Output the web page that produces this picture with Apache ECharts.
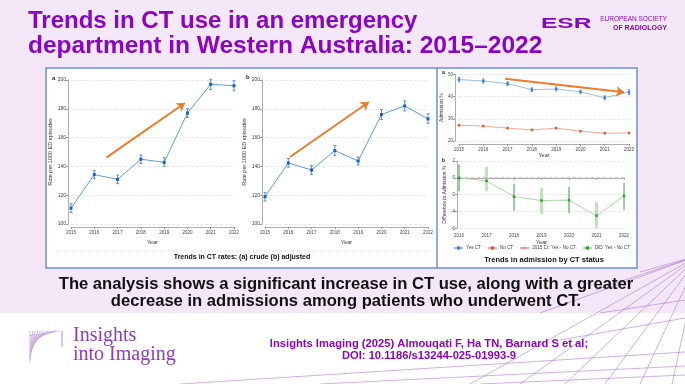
<!DOCTYPE html>
<html>
<head>
<meta charset="utf-8">
<script src="https://cdn.jsdelivr.net/npm/echarts@6/dist/echarts.min.js"></script>
<style>
html, body { margin: 0; padding: 0; background: #fff; }
#chart { width: 685px; height: 384px; }
</style>
</head>
<body>
<div id="chart"></div>
<script>
// panel a / b : CT rate per 1000 ED episodes
const years = [2015, 2016, 2017, 2018, 2019, 2020, 2021, 2022]
const crude = [111, 134.3, 131, 145, 142.8, 177, 197, 196]
const crudeLow = [108, 131.5, 128, 142, 140, 174, 193.5, 192.5]
const crudeHigh = [114, 137, 134, 148, 146, 180, 200.5, 199.5]
const adjusted = [119, 142.4, 137.5, 151, 143.7, 176, 182, 173]
const adjLow = [116, 139.5, 134.5, 147.5, 141, 172.5, 178.5, 170]
const adjHigh = [122, 145.5, 140.5, 154.5, 146.5, 179.5, 185.5, 176.5]

// admission % by CT status
const yesCT = [47.6, 47, 45.8, 43.1, 43.4, 42.1, 39.5, 42]
const yesLow = [46.6, 46.1, 45, 42.3, 42.5, 41.3, 38.7, 41]
const yesHigh = [48.6, 47.9, 46.6, 43.9, 44.3, 42.9, 40.3, 43]
const noCT = [27.1, 26.7, 25.8, 25, 25.8, 24.4, 23.5, 23.6]

// difference in differences
const didYears = [2016, 2017, 2018, 2019, 2020, 2021, 2022]
const did = [0, -0.36, -2.24, -2.7, -2.65, -4.5, -2.15]
const didLow = [-1.6, -1.6, -3.9, -4.3, -4.2, -6, -3.8]
const didHigh = [1.6, 1.3, -0.7, -1.15, -1.07, -2.9, -0.6]
const zeroRef = [0, 0, 0, 0, 0, 0, 0]

// annotation arrows (data units)
const arrowA = [[2016.53, 146.3], [2019.89, 184]]
const arrowB = [[2016.07, 146.5], [2019.46, 184.7]]
const arrowC = [[2016.9, 48], [2021.8, 41.9]]

const purple = '#8a05c2'
const pairs = (xs, ys) => xs.map((x, i) => [x, ys[i]])
const triples = (xs, lo, hi) => xs.map((x, i) => [x, lo[i], hi[i]])

function errBar(color, cap, lightColor) {
  return function (params, api) {
    const x = api.value(0)
    const lo = api.coord([x, api.value(1)])
    const hi = api.coord([x, api.value(2)])
    if (lightColor && params.dataIndex % 2 === 1) {
      return {
        type: 'rect',
        shape: { x: lo[0] - 1.5, y: hi[1], width: 3, height: lo[1] - hi[1] },
        style: { fill: lightColor }
      }
    }
    const st = { stroke: color, lineWidth: 1 }
    return {
      type: 'group',
      children: [
        { type: 'line', shape: { x1: lo[0], y1: lo[1], x2: hi[0], y2: hi[1] }, style: st },
        { type: 'line', shape: { x1: lo[0] - cap, y1: lo[1], x2: lo[0] + cap, y2: lo[1] }, style: st },
        { type: 'line', shape: { x1: hi[0] - cap, y1: hi[1], x2: hi[0] + cap, y2: hi[1] }, style: st }
      ]
    }
  }
}

function xAx(grid, min, max, off, fs, gap) {
  return {
    type: 'value', gridIndex: grid, min: min, max: max, interval: 1, offset: off,
    name: 'Year', nameLocation: 'middle', nameGap: gap,
    nameTextStyle: { fontSize: fs + 1, color: '#333', fontFamily: 'Liberation Sans' },
    axisLine: { show: true, lineStyle: { color: '#999', width: 0.8 } },
    axisTick: { show: true, length: 2, lineStyle: { color: '#999' } },
    axisLabel: { fontSize: fs, margin: 3, color: '#444', formatter: v => String(v), fontFamily: 'Liberation Sans' },
    splitLine: { show: false }
  }
}
function yAx(grid, min, max, step, off, name, fs, gap) {
  return {
    type: 'value', gridIndex: grid, min: min, max: max, interval: step, offset: off,
    name: name, nameLocation: 'middle', nameGap: gap,
    nameTextStyle: { fontSize: fs + 0.5, color: '#333', fontFamily: 'Liberation Sans' },
    axisLine: { show: true, lineStyle: { color: '#999', width: 0.8 } },
    axisTick: { show: true, length: 2, lineStyle: { color: '#999' } },
    axisLabel: { fontSize: fs, margin: 2, color: '#444', fontFamily: 'Liberation Sans' },
    splitLine: { show: true, lineStyle: { color: '#e2e2e2', type: 'dashed', width: 0.8 } }
  }
}
function arrowLine(pts) {
  return {
    silent: true, symbol: ['none', 'arrow'], symbolSize: 8, label: { show: false },
    lineStyle: { color: '#f07a2a', width: 2, type: 'solid' },
    itemStyle: { color: '#f07a2a' },
    data: [[{ coord: pts[0] }, { coord: pts[1] }]]
  }
}

const txt = (id, x, y, text, size, color, extra) => ({
  type: 'text', id: id, x: x, y: y, silent: true,
  style: Object.assign({ text: text, fontSize: size, fill: color, fontFamily: 'Liberation Sans', fontWeight: 'bold' }, extra || {})
})

const graphics = [
  { type: 'rect', id: 'bgTop', shape: { x: 0, y: 0, width: 685, height: 313 }, style: { fill: '#f4e7f7' }, z: -10 },
  { type: 'rect', id: 'frame', shape: { x: 46, y: 68, width: 591, height: 200 }, style: { fill: '#fff', stroke: '#6b8fd6', lineWidth: 1.5 }, z: -9 },
  { type: 'line', id: 'divider', shape: { x1: 437, y1: 68, x2: 437, y2: 268 }, style: { stroke: '#6b8fd6', lineWidth: 1.5 }, z: -8 },
  { type: 'line', id: 'sep', shape: { x1: 52, y1: 251, x2: 432, y2: 251 }, style: { stroke: '#d8d8d8', lineWidth: 0.8, lineDash: [2, 2] }, z: -8 },
  txt('t1', 28, 21, 'Trends in CT use in an emergency', 24, purple, { textVerticalAlign: 'middle' }),
  txt('t2', 28, 46, 'department in Western Australia: 2015\u20132022', 24.5, purple, { textVerticalAlign: 'middle' }),
  { type: 'text', id: 'esr', x: 541, y: 24, scaleX: 1.75, silent: true,
    style: { text: 'ESR', fontSize: 14, fontWeight: 'bold', fill: purple, fontFamily: 'Liberation Sans', textVerticalAlign: 'middle' } },
  txt('esr1', 667, 19, 'EUROPEAN SOCIETY', 6.5, purple, { textAlign: 'right', textVerticalAlign: 'middle', fontWeight: 'normal' }),
  txt('esr2', 667, 28, 'OF RADIOLOGY', 7, purple, { textAlign: 'right', textVerticalAlign: 'middle' }),
  txt('la', 52, 78, 'a', 6, '#222', { textVerticalAlign: 'middle' }),
  txt('lb', 246, 77, 'b', 6, '#222', { textVerticalAlign: 'middle' }),
  txt('lc', 442, 73, 'a', 5, '#222', { textVerticalAlign: 'middle' }),
  txt('ld', 442, 161, 'b', 5, '#222', { textVerticalAlign: 'middle' }),
  txt('cap1', 242, 257, 'Trends in CT rates: (a) crude (b) adjusted', 7, '#111', { textAlign: 'center', textVerticalAlign: 'middle' }),
  txt('cap2', 544, 259.5, 'Trends in admission by CT status', 7.5, '#111', { textAlign: 'center', textVerticalAlign: 'middle' }),
  txt('m1', 346, 284, 'The analysis shows a significant increase in CT use, along with a greater', 16.6, '#111', { textAlign: 'center', textVerticalAlign: 'middle' }),
  txt('m2', 346, 301, 'decrease in admissions among patients who underwent CT.', 16.6, '#111', { textAlign: 'center', textVerticalAlign: 'middle' }),
  txt('ref1', 429, 344, 'Insights Imaging (2025) Almouqati F, Ha TN, Barnard S et al;', 11.2, purple, { textAlign: 'center', textVerticalAlign: 'middle' }),
  txt('ref2', 429, 355.5, 'DOI: 10.1186/s13244-025-01993-9', 11.2, purple, { textAlign: 'center', textVerticalAlign: 'middle' }),
  txt('ii1', 73, 346, 'Insights', 20, '#8e3cc8', { fontFamily: 'Liberation Serif', fontWeight: 'normal', textVerticalAlign: 'bottom' }),
  txt('ii2', 73, 365, 'into Imaging', 20, '#8e3cc8', { fontFamily: 'Liberation Serif', fontWeight: 'normal', textVerticalAlign: 'bottom' })
]

// decorative lines, bottom right
const deco = [
  [700, 255, 470, 384], [700, 255, 520, 384], [700, 255, 565, 384], [700, 255, 605, 384],
  [700, 255, 640, 384], [700, 255, 672, 384], [700, 255, 540, 313], [700, 255, 595, 290],
  [700, 255, 640, 272], [180, 384, 685, 352], [320, 384, 685, 366], [480, 384, 685, 375],
  [600, 313, 685, 300], [560, 340, 685, 318]
]
deco.forEach((d, i) => graphics.push({
  type: 'line', id: 'deco' + i, silent: true, z: -5,
  shape: { x1: d[0], y1: d[1], x2: d[2], y2: d[3] },
  style: { stroke: '#a871d3', lineWidth: 0.7, opacity: 0.8 }
}))
// journal logo stripes
for (let i = 0; i < 12; i++) {
  graphics.push({
    type: 'line', id: 'logo' + i, silent: true,
    shape: { x1: 30 + i * 2.6, y1: 331, x2: 30, y2: 362 - i * 2.4 },
    style: { stroke: '#c7a3e0', lineWidth: 0.8 }
  })
}
graphics.push({ type: 'line', id: 'logoBar', shape: { x1: 62, y1: 331, x2: 62, y2: 347 }, style: { stroke: '#b98ad8', lineWidth: 1 } })

const chart = echarts.init(document.getElementById('chart'), null, { renderer: 'canvas' })
const option = {
  backgroundColor: '#ffffff',
  animation: false,
  textStyle: { fontFamily: 'Liberation Sans' },
  graphic: { elements: graphics },
  legend: {
    data: ['Yes CT', 'No CT', '2015 Cr: Yes - No CT', 'DiD: Yes - No CT'],
    left: 453, top: 245.5, padding: 0, width: 190, itemWidth: 9, itemHeight: 4, itemGap: 6,
    textStyle: { fontSize: 4.6, color: '#444', padding: [0, 0, 0, -2] }
  },
  grid: [
    { left: 71, top: 80, width: 163, height: 144 },
    { left: 265, top: 80, width: 163, height: 144 },
    { left: 459, top: 74.3, width: 170, height: 66.7 },
    { left: 459, top: 161, width: 165, height: 67.3 }
  ],
  xAxis: [
    xAx(0, 2015, 2022, 3, 4.5, 12),
    xAx(1, 2015, 2022, 3, 4.5, 12),
    xAx(2, 2015, 2022, 3, 4.5, 8),
    xAx(3, 2016, 2022, 2, 4.5, 8)
  ],
  yAxis: [
    yAx(0, 100, 200, 20, 3, 'Rate per 1000 ED episodes', 5, 9),
    yAx(1, 100, 200, 20, 3, 'Rate per 1000 ED episodes', 5, 9),
    yAx(2, 20, 50, 10, 4, 'Admission %', 4.5, 8),
    yAx(3, -6, 2, 2, 2, 'Difference in Admission %', 4.5, 8)
  ],
  series: [
    { name: 'crude', type: 'line', xAxisIndex: 0, yAxisIndex: 0, data: pairs(years, crude),
      symbol: 'rect', symbolSize: 3, itemStyle: { color: '#1c5fc4' }, lineStyle: { color: '#5d9de3', width: 1 },
      markLine: arrowLine(arrowA) },
    { name: 'crudeCI', type: 'custom', xAxisIndex: 0, yAxisIndex: 0, data: triples(years, crudeLow, crudeHigh),
      renderItem: errBar('#5a90d8', 1.5), encode: { x: 0, y: [1, 2] } },
    { name: 'adjusted', type: 'line', xAxisIndex: 1, yAxisIndex: 1, data: pairs(years, adjusted),
      symbol: 'rect', symbolSize: 3, itemStyle: { color: '#1c5fc4' }, lineStyle: { color: '#5d9de3', width: 1 },
      markLine: arrowLine(arrowB) },
    { name: 'adjCI', type: 'custom', xAxisIndex: 1, yAxisIndex: 1, data: triples(years, adjLow, adjHigh),
      renderItem: errBar('#5a90d8', 1.5), encode: { x: 0, y: [1, 2] } },
    { name: 'Yes CT', type: 'line', xAxisIndex: 2, yAxisIndex: 2, data: pairs(years, yesCT),
      symbol: 'rect', symbolSize: 2.5, itemStyle: { color: '#3f7fd6' }, lineStyle: { color: '#96bdec', width: 1 },
      markLine: arrowLine(arrowC) },
    { name: 'yesCI', type: 'custom', xAxisIndex: 2, yAxisIndex: 2, data: triples(years, yesLow, yesHigh),
      renderItem: errBar('#4f8ad8', 1), encode: { x: 0, y: [1, 2] } },
    { name: 'No CT', type: 'line', xAxisIndex: 2, yAxisIndex: 2, data: pairs(years, noCT),
      symbol: 'rect', symbolSize: 2.5, itemStyle: { color: '#e0583a' }, lineStyle: { color: '#f2a898', width: 1 } },
    { name: '2015 Cr: Yes - No CT', type: 'line', xAxisIndex: 3, yAxisIndex: 3, data: pairs(didYears, zeroRef),
      symbol: 'none', itemStyle: { color: '#f08a8a' }, lineStyle: { color: '#f4a0a0', width: 1, type: [3, 3] } },
    { name: 'DiD: Yes - No CT', type: 'line', xAxisIndex: 3, yAxisIndex: 3, data: pairs(didYears, did),
      symbol: 'rect', symbolSize: 2.5, itemStyle: { color: '#2f9a2f' }, lineStyle: { color: '#a8dca0', width: 1 } },
    { name: 'didCI', type: 'custom', xAxisIndex: 3, yAxisIndex: 3, data: triples(didYears, didLow, didHigh),
      renderItem: errBar('#3a9a3a', 0, 'rgba(150,210,140,0.6)'), encode: { x: 0, y: [1, 2] } }
  ]
}
chart.setOption(option)
</script>
</body>
</html>
